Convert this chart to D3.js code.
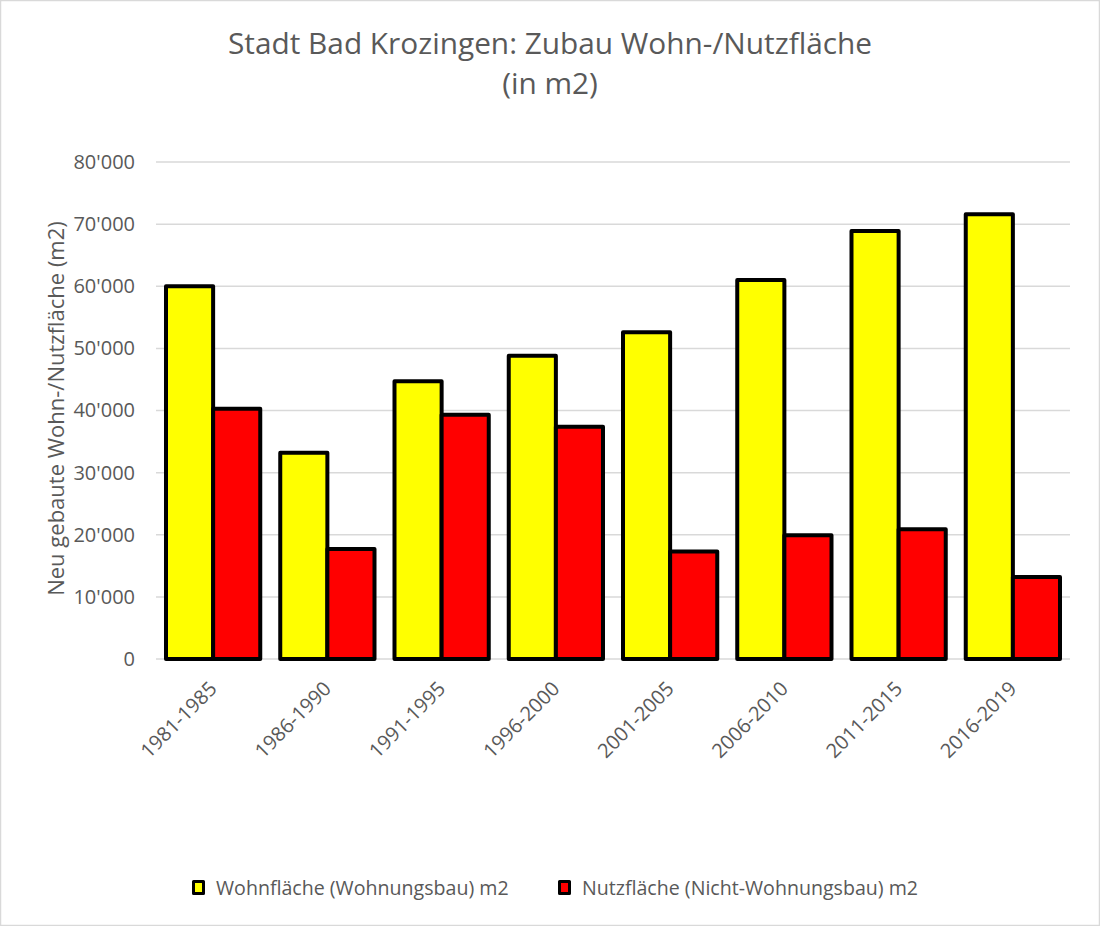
<!DOCTYPE html>
<html><head><meta charset="utf-8">
<script src="https://cdn.jsdelivr.net/npm/d3@7"></script>
<style>
html,body{margin:0;padding:0;background:#fff;}
svg{display:block;font-family:"Open Sans",sans-serif;}
</style></head>
<body>
<svg id="c" width="1100" height="926"></svg>
<script>
const categories = ["1981-1985","1986-1990","1991-1995","1996-2000","2001-2005","2006-2010","2011-2015","2016-2019"];
const wohnflaeche = [60000, 33200, 44700, 48800, 52600, 61000, 68900, 71600];
const nutzflaeche = [40300, 17700, 39300, 37400, 17300, 19900, 20900, 13200];
const seriesNames = ["Wohnfläche (Wohnungsbau) m2", "Nutzfläche (Nicht-Wohnungsbau) m2"];
const seriesColors = ["#ffff00", "#ff0000"];
const yTicks = [0,10000,20000,30000,40000,50000,60000,70000,80000];
const titleLines = ["Stadt Bad Krozingen: Zubau Wohn-/Nutzfläche", "(in m2)"];
const yTitle = "Neu gebaute Wohn-/Nutzfläche (m2)";

const svg = d3.select("#c");
const W = 1100, H = 926;
const m = {left:156, right:1070, top:162, bottom:659};
const textColor = "#595959";

svg.append("rect").attr("x",0.5).attr("y",0.5).attr("width",W-1).attr("height",H-1)
  .attr("fill","#fff").attr("stroke","#d9d9d9").attr("stroke-width",1.5);

const x0 = d3.scaleBand().domain(categories).range([m.left, m.right]).paddingInner(0.175).paddingOuter(0.0875);
const x1 = d3.scaleBand().domain([0,1]).range([0, x0.bandwidth()]);
const y = d3.scaleLinear().domain([0,80000]).range([m.bottom, m.top]);

// gridlines
svg.append("g").selectAll("line").data(yTicks).join("line")
  .attr("x1", m.left).attr("x2", m.right)
  .attr("y1", d=>y(d)).attr("y2", d=>y(d))
  .attr("stroke","#d9d9d9").attr("stroke-width",1.5);

// y axis labels
const fmt = d => d===0 ? "0" : d3.format(",")(d).replace(/,/g,"'");
const yAxis = d3.axisLeft(y).tickValues(yTicks).tickFormat(fmt).tickSize(0).tickPadding(21);
const gy = svg.append("g").attr("transform",`translate(${m.left},0)`).call(yAxis);
gy.select(".domain").remove();
gy.selectAll("text").attr("fill",textColor).style("font-size","20px").style("font-family","'Open Sans',sans-serif");

// bars
const data = categories.map((c,i)=>({c, vals:[wohnflaeche[i], nutzflaeche[i]]}));
const g = svg.append("g").selectAll("g").data(data).join("g")
  .attr("transform", d=>`translate(${x0(d.c)},0)`);
g.selectAll("rect").data(d=>d.vals.map((v,k)=>({v,k}))).join("rect")
  .attr("x", d=>x1(d.k)).attr("width", x1.bandwidth())
  .attr("y", d=>y(d.v)).attr("height", d=>y(0)-y(d.v))
  .attr("fill", d=>seriesColors[d.k]).attr("stroke","#000").attr("stroke-width",4)
  .attr("stroke-linejoin","round");

// x axis labels
const xAxis = d3.axisBottom(x0).tickSize(0).tickPadding(0);
const gx = svg.append("g").attr("transform",`translate(0,${m.bottom})`).call(xAxis);
gx.select(".domain").remove();
gx.selectAll("text").attr("fill",textColor).style("font-size","20px").style("font-family","'Open Sans',sans-serif")
  .attr("text-anchor","end").attr("dy",0).attr("y",0)
  .attr("transform","translate(5,31) rotate(-45)");

// title
svg.append("text").attr("x",550).attr("y",54).attr("text-anchor","middle")
  .attr("fill",textColor).style("font-size","29.8px").text(titleLines[0]);
svg.append("text").attr("x",550).attr("y",94).attr("text-anchor","middle")
  .attr("fill",textColor).style("font-size","29.8px").text(titleLines[1]);

// y title
svg.append("text").attr("transform",`translate(64,${(m.top+m.bottom)/2 - 2}) rotate(-90)`)
  .attr("text-anchor","middle").attr("fill",textColor).style("font-size","22px").text(yTitle);

// legend
const legX = [192, 558];
seriesNames.forEach((n,i)=>{
  svg.append("rect").attr("x",legX[i]+1.5).attr("y",881.5).attr("width",10).attr("height",12)
    .attr("fill",seriesColors[i]).attr("stroke","#000").attr("stroke-width",3).attr("stroke-linejoin","round");
  svg.append("text").attr("x",legX[i]+24).attr("y",895).attr("fill",textColor)
    .style("font-size","19.6px").text(n);
});
</script>
</body></html>
